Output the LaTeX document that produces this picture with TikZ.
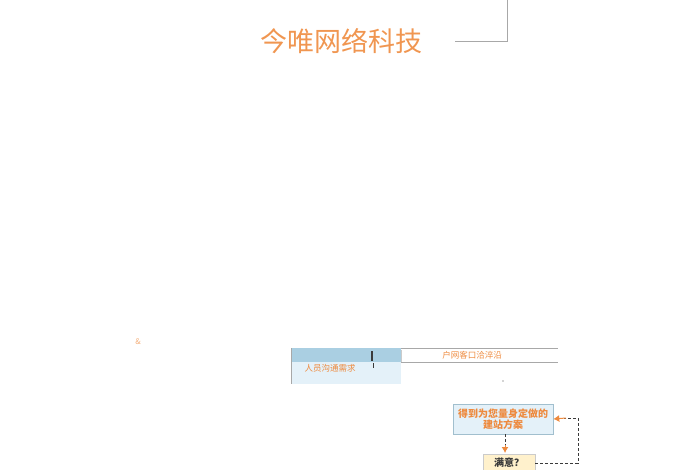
\documentclass[tikz,border=0pt]{standalone}
\usepackage{fontspec}
\setmainfont{Noto Sans CJK SC}
\usetikzlibrary{arrows.meta,positioning}

\definecolor{jworange}{HTML}{EE8A3E}
\definecolor{jwgray}{HTML}{A8A8A8}
\definecolor{jwblue}{HTML}{AACFE2}
\definecolor{jwpale}{HTML}{E4F1F9}
\definecolor{jwyellow}{HTML}{FFF1CC}
\definecolor{jwdark}{HTML}{3A3A3A}

\begin{document}
\begin{tikzpicture}[%
        x = 1pt,
        y = -1pt,
        line width = 0.6pt,
        > = Latex,
        stepbox/.style = {
            draw = jwblue!80!gray,
            fill = jwpale,
            inner sep = 0pt,
            text = jworange,
            align = center,
            font = \fontsize{10}{11.5}\selectfont\bfseries,
        },
        askbox/.style = {
            draw = jwgray!60,
            fill = jwyellow,
            inner sep = 0pt,
            text = jwdark,
            font = \fontsize{10}{11}\selectfont\bfseries,
        },
        loopline/.style = {
            draw = jwdark,
            densely dashed,
            line width = 0.9pt,
        },
    ]

        % Page frame.
        \useasboundingbox (0, 0) rectangle (700, 470);

        % Title and corner mark.
        \node (title) at (341, 41) [text = jworange!90, font = \fontsize{27}{30}\selectfont] {今唯网络科技};
        \coordinate (c1) at (507, 0);
        \coordinate (c2) at (507, 41);
        \coordinate (c3) at (455, 41);
        \draw[jwgray, line width = 0.8pt] (c1) -- (c2) -- (c3);

        % Stray mark on the left.
        \node (amp) at (138, 342) [text = jworange!70, font = \fontsize{8}{9}\selectfont] {\&};

        % Table row.
        \fill[jwblue] (291, 348) rectangle (401, 362);
        \fill[jwpale] (291, 362) rectangle (401, 384);
        \draw[jwgray] (291, 348) -- (291, 384);
        \draw[jwgray] (401, 348) -- (558, 348);
        \draw[jwgray] (401, 362) -- (558, 362);
        \draw[jwgray!60] (401, 350) -- (401, 362);
        \draw[jwdark, line width = 1.4pt] (372, 351) -- (372, 361);
        \draw[jwdark, line width = 0.5pt] (373, 363) -- (373, 368);
        \node (need) at (330, 368) [text = jworange, font = \fontsize{8.5}{9}\selectfont] {人员沟通需求};
        \node (talk) at (472, 355) [text = jworange, font = \fontsize{8.5}{9}\selectfont] {户网客口洽淬沿};
        \fill[jwgray] (503, 381) circle (0.8pt);

        % Flow boxes.
        \node (plan) [stepbox, minimum width = 100pt, minimum height = 30pt] at (503, 419) {得到为您量身定做的\\建站方案};
        \node (ok) [askbox, minimum width = 52pt, minimum height = 18pt] at (509, 463) {满意？};

        % Connectors.
        \coordinate (turn1) at (578, 463);
        \coordinate (turn2) at (578, 418);
        \draw[loopline] (plan.south -| 505, 0) -- (505, 446);
        \draw[-{Latex[length = 6pt, width = 7pt]}, jworange, line width = 1pt] (505, 445) -- (505, 453);
        \draw[loopline] (ok.east) -- (turn1) -- (turn2) -- (564, 418);
        \draw[-{Latex[length = 6pt, width = 7pt]}, jworange, line width = 1pt] (566, 418) -- (plan.east);
    \end{tikzpicture}
\end{document}
